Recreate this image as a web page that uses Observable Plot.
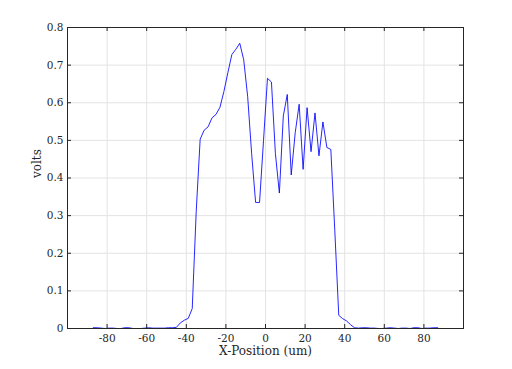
<!DOCTYPE html>
<html>
<head>
<meta charset="utf-8">
<script src="https://cdn.jsdelivr.net/npm/d3@7"></script>
<script src="https://cdn.jsdelivr.net/npm/@observablehq/plot@0.6"></script>
<style>
  html, body { margin: 0; padding: 0; background: #fff; }
  svg { display: block; }
</style>
</head>
<body>
<div id="chart"></div>
<script>
const xPos = [
  -87,-85,-83,-81,-79,-77,-75,-73,-71,-69,-67,-65,-63,-61,-59,-57,-55,-53,-51,-49,
  -47,-45,-43,-41,-39,-37,-35,-33,-31,-29,-27,-25,-23,-21,-19,-17,-15,-13,-11,-9,
  -7,-5,-3,-1,1,3,5,7,9,11,13,15,17,19,21,23,25,27,29,31,
  33,35,37,39,41,43,45,47,49,51,53,55,57,59,61,63,65,67,69,71,
  73,75,77,79,81,83,85,87
];
const volts = [
  0.002,0.002,0.001,0.000,0.001,0.001,0.000,0.000,0.002,0.002,0.000,0.000,0.000,0.001,0.002,0.001,0.001,0.001,0.001,0.002,
  0.002,0.003,0.015,0.022,0.027,0.053,0.310,0.503,0.527,0.536,0.560,0.569,0.588,0.630,0.680,0.728,0.742,0.758,0.714,0.616,
  0.465,0.335,0.335,0.500,0.665,0.655,0.465,0.360,0.565,0.622,0.408,0.520,0.596,0.423,0.587,0.470,0.573,0.459,0.549,0.481,
  0.476,0.260,0.035,0.026,0.020,0.010,0.002,0.001,0.002,0.002,0.001,0.001,0.000,0.000,0.001,0.002,0.001,0.000,0.001,0.001,
  0.000,0.002,0.002,0.000,0.001,0.001,0.002,0.002
];
const xTicks = [-80,-60,-40,-20,0,20,40,60,80];
const yTicks = [0,0.1,0.2,0.3,0.4,0.5,0.6,0.7,0.8];
const xDomain = [-100, 100];
const yDomain = [0, 0.8];
const xLabel = "X-Position (um)";
const yLabel = "volts";

const data = xPos.map((x, i) => ({x, y: volts[i]}));

const W = 512, H = 369;
const mL = 67, mR = 49, mT = 27, mB = 41;
const fw = W - mL - mR, fh = H - mT - mB;
const font = "DejaVu Serif";
const axisColor = "#262626";

const chart = Plot.plot({
  width: W,
  height: H,
  marginLeft: mL,
  marginRight: mR,
  marginTop: mT,
  marginBottom: mB,
  style: {fontFamily: font, fontSize: "10.5px", color: axisColor, background: "#fff"},
  x: {domain: xDomain},
  y: {domain: yDomain},
  marks: [
    Plot.ruleX(xTicks, {stroke: "#e3e3e3", strokeWidth: 1}),
    Plot.ruleY(yTicks, {stroke: "#e3e3e3", strokeWidth: 1}),
    Plot.line(data, {x: "x", y: "y", stroke: "#0000ff", strokeWidth: 1, strokeOpacity: 0.85}),
    Plot.frame({stroke: axisColor, strokeWidth: 1}),
    // inward ticks on all four sides
    Plot.tickX(xTicks, {x: d => d, insetTop: fh - 4, stroke: axisColor}),
    Plot.tickX(xTicks, {x: d => d, insetBottom: fh - 4, stroke: axisColor}),
    Plot.tickY(yTicks, {y: d => d, insetRight: fw - 4, stroke: axisColor}),
    Plot.tickY(yTicks, {y: d => d, insetLeft: fw - 4, stroke: axisColor}),
    Plot.axisX({ticks: xTicks, tickSize: 0, tickPadding: 6, label: null, tickFormat: d => String(d), fontSize: 10.5}),
    Plot.axisY({ticks: yTicks, tickSize: 0, tickPadding: 4, label: null, tickFormat: d => String(d), fontSize: 10.5}),
    Plot.text([xLabel], {frameAnchor: "bottom", dy: 26, fontSize: 12, fill: axisColor}),
    Plot.text([yLabel], {frameAnchor: "left", dx: -30, rotate: -90, fontSize: 12, fill: axisColor})
  ]
});
document.getElementById("chart").appendChild(chart);
</script>
</body>
</html>
